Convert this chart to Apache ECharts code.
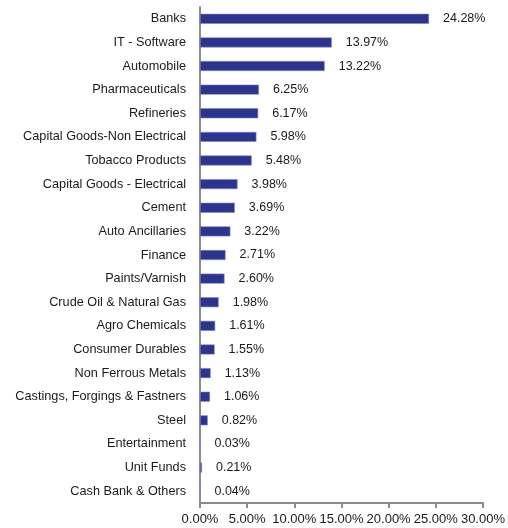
<!DOCTYPE html>
<html>
<head>
<meta charset="utf-8">
<script src="https://cdn.jsdelivr.net/npm/echarts@6/dist/echarts.min.js"></script>
<style>
  html, body { margin: 0; padding: 0; background: #fff; }
  #chart { width: 508px; height: 528px; }
</style>
</head>
<body>
<div id="chart"></div>
<script>
const sectors = [
  'Banks', 'IT - Software', 'Automobile', 'Pharmaceuticals', 'Refineries',
  'Capital Goods-Non Electrical', 'Tobacco Products', 'Capital Goods - Electrical',
  'Cement', 'Auto Ancillaries', 'Finance', 'Paints/Varnish', 'Crude Oil & Natural Gas',
  'Agro Chemicals', 'Consumer Durables', 'Non Ferrous Metals',
  'Castings, Forgings & Fastners', 'Steel', 'Entertainment', 'Unit Funds', 'Cash Bank & Others'
]
const weights = [
  24.28, 13.97, 13.22, 6.25, 6.17, 5.98, 5.48, 3.98, 3.69, 3.22, 2.71, 2.60,
  1.98, 1.61, 1.55, 1.13, 1.06, 0.82, 0.03, 0.21, 0.04
]

const chart = echarts.init(document.getElementById('chart'))
const font = 'Liberation Sans, Arial, sans-serif'

chart.setOption({
  animation: false,
  grid: { left: 200, right: 20, top: 7, bottom: 25, containLabel: false },
  xAxis: {
    type: 'value',
    min: 0,
    max: 30,
    interval: 5,
    axisLine: { show: true, lineStyle: { color: '#8c8c8c', width: 2 } },
    axisTick: { show: true, length: 5, lineStyle: { color: '#8c8c8c', width: 2 } },
    splitLine: { show: false },
    axisLabel: {
      color: '#1a1a1a', fontSize: 13, fontFamily: font, margin: 10,
      formatter: v => v.toFixed(2) + '%'
    }
  },
  yAxis: {
    type: 'category',
    data: sectors,
    inverse: true,
    axisLine: { show: true, lineStyle: { color: '#8c8c8c', width: 2 } },
    axisTick: { show: false },
    axisLabel: { color: '#1a1a1a', fontSize: 12.7, fontFamily: font, margin: 14 }
  },
  series: [{
    type: 'bar',
    data: weights,
    barWidth: 10,
    itemStyle: { color: '#2c348c', borderColor: '#7f86c4', borderWidth: 0.6 },
    label: {
      show: true,
      position: 'right',
      distance: 14,
      color: '#1a1a1a',
      fontSize: 12.5,
      fontFamily: font,
      formatter: p => p.value.toFixed(2) + '%'
    }
  }]
})
</script>
</body>
</html>
